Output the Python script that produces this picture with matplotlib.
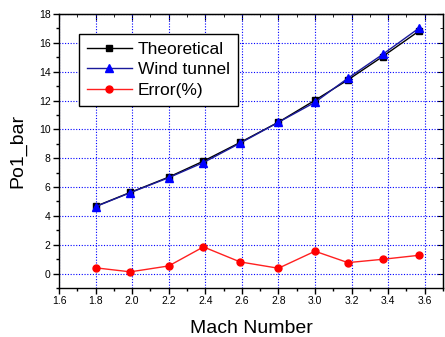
import matplotlib
matplotlib.use("Agg")
import matplotlib.pyplot as plt
from matplotlib.ticker import MultipleLocator

plt.rcParams['font.family'] = ['Liberation Sans', 'DejaVu Sans']

mach = [1.80, 1.99, 2.20, 2.39, 2.59, 2.80, 3.00, 3.18, 3.37, 3.57]
theoretical = [4.66, 5.63, 6.69, 7.80, 9.09, 10.50, 12.02, 13.43, 15.05, 16.83]
wind_tunnel = [4.64, 5.61, 6.65, 7.70, 9.04, 10.49, 11.88, 13.55, 15.20, 17.03]
error_pct = [0.40, 0.12, 0.53, 1.85, 0.81, 0.37, 1.55, 0.76, 0.99, 1.27]

fig = plt.figure(figsize=(4.45, 3.37), dpi=100)
ax = fig.add_axes([59/445, 49/337, 384/445, 274/337])

ax.plot(mach, theoretical, color='black', lw=1.0, marker='s', ms=4.5,
        mfc='black', mec='black', label='Theoretical', zorder=3)
ax.plot(mach, wind_tunnel, color='#1a1a9a', lw=1.0, marker='^', ms=5.5,
        mfc='#0000ff', mec='#0000ff', label='Wind tunnel', zorder=4)
ax.plot(mach, error_pct, color='#ff2020', lw=1.0, marker='o', ms=5,
        mfc='#ff0000', mec='#ff0000', label='Error(%)', zorder=3)

ax.set_xlim(1.6, 3.7)
ax.set_ylim(-1, 18)
ax.xaxis.set_major_locator(MultipleLocator(0.2))
ax.xaxis.set_minor_locator(MultipleLocator(0.1))
ax.yaxis.set_major_locator(MultipleLocator(2))
ax.yaxis.set_minor_locator(MultipleLocator(1))
ax.xaxis.set_major_formatter(plt.FuncFormatter(lambda v, p: f"{v:.1f}"))

ax.grid(True, which='major', color='#0000ff', linestyle=(0, (1, 1.5)), lw=0.8)

ax.tick_params(which='both', direction='out', labelsize=7.5, color='black',
               width=1.0, top=False, right=False, pad=2)
ax.tick_params(which='major', length=4)
ax.tick_params(which='minor', length=2.5)

# inward ticks on top and right
axt = ax.secondary_xaxis('top')
axt.xaxis.set_major_locator(MultipleLocator(0.2))
axt.xaxis.set_minor_locator(MultipleLocator(0.1))
axt.tick_params(which='both', direction='in', labeltop=False)
axt.tick_params(which='major', length=4)
axt.tick_params(which='minor', length=2.5)
axr = ax.secondary_yaxis('right')
axr.yaxis.set_major_locator(MultipleLocator(2))
axr.yaxis.set_minor_locator(MultipleLocator(1))
axr.tick_params(which='both', direction='in', labelright=False)
axr.tick_params(which='major', length=4)
axr.tick_params(which='minor', length=2.5)

for s in ax.spines.values():
    s.set_linewidth(1.0)

ax.set_xlabel('Mach Number', fontsize=14, labelpad=10)
ax.set_ylabel('Po1_bar', fontsize=14, labelpad=9)

leg = ax.legend(loc='upper left', bbox_to_anchor=(0.052, 0.927), fontsize=12.5,
                frameon=True, fancybox=False, edgecolor='black', framealpha=1,
                borderpad=0.45, handlelength=2.6, labelspacing=0.3,
                handletextpad=0.35, borderaxespad=0)
leg.get_frame().set_linewidth(1.0)

fig.savefig('out.png', dpi=100)
